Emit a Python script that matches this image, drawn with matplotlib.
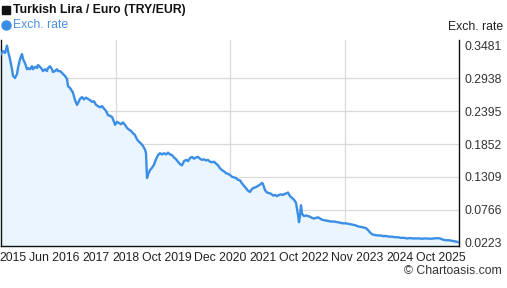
import matplotlib
matplotlib.use("Agg")
import matplotlib.pyplot as plt
from matplotlib.lines import Line2D

# ---- data ----
years = [2015.400, 2015.444, 2015.488, 2015.532, 2015.554, 2015.597, 2015.641, 2015.663, 2015.707, 2015.751,
         2015.773, 2015.817, 2015.861, 2015.883, 2015.927, 2015.971, 2015.993, 2016.036, 2016.080, 2016.102,
         2016.146, 2016.190, 2016.212, 2016.256, 2016.300, 2016.322, 2016.366, 2016.409, 2016.431, 2016.475,
         2016.519, 2016.541, 2016.585, 2016.629, 2016.651, 2016.695, 2016.739, 2016.761, 2016.804, 2016.848,
         2016.870, 2016.914, 2016.958, 2016.980, 2017.024, 2017.068, 2017.090, 2017.134, 2017.177, 2017.221,
         2017.265, 2017.309, 2017.353, 2017.397, 2017.441, 2017.485, 2017.529, 2017.572, 2017.616, 2017.660,
         2017.704, 2017.748, 2017.792, 2017.836, 2017.880, 2017.902, 2017.946, 2017.989, 2018.033, 2018.077,
         2018.121, 2018.165, 2018.209, 2018.253, 2018.297, 2018.341, 2018.384, 2018.428, 2018.472, 2018.516,
         2018.560, 2018.582, 2018.604, 2018.626, 2018.670, 2018.714, 2018.757, 2018.801, 2018.845, 2018.889,
         2018.933, 2018.977, 2019.021, 2019.065, 2019.109, 2019.152, 2019.196, 2019.240, 2019.284, 2019.328,
         2019.372, 2019.416, 2019.460, 2019.504, 2019.547, 2019.591, 2019.635, 2019.679, 2019.723, 2019.767,
         2019.811, 2019.855, 2019.899, 2019.942, 2019.986, 2020.030, 2020.074, 2020.118, 2020.162, 2020.206,
         2020.250, 2020.294, 2020.337, 2020.381, 2020.425, 2020.469, 2020.513, 2020.557, 2020.601, 2020.645,
         2020.689, 2020.732, 2020.776, 2020.820, 2020.864, 2020.908, 2020.952, 2020.996, 2021.040, 2021.084,
         2021.127, 2021.149, 2021.193, 2021.237, 2021.281, 2021.325, 2021.369, 2021.413, 2021.457, 2021.501,
         2021.544, 2021.588, 2021.632, 2021.676, 2021.698, 2021.742, 2021.786, 2021.830, 2021.874, 2021.896,
         2021.917, 2021.939, 2021.961, 2021.983, 2022.005, 2022.049, 2022.093, 2022.137, 2022.181, 2022.225,
         2022.268, 2022.312, 2022.356, 2022.400, 2022.444, 2022.510, 2022.576, 2022.642, 2022.707, 2022.773,
         2022.839, 2022.905, 2022.971, 2023.037, 2023.102, 2023.168, 2023.234, 2023.300, 2023.366, 2023.410,
         2023.453, 2023.497, 2023.541, 2023.585, 2023.651, 2023.717, 2023.783, 2023.848, 2023.914, 2023.980,
         2024.046, 2024.112, 2024.178, 2024.243, 2024.309, 2024.375, 2024.441, 2024.507, 2024.573, 2024.638,
         2024.704, 2024.770, 2024.836, 2024.902, 2024.968, 2025.034, 2025.099, 2025.165, 2025.231, 2025.297,
         2025.363, 2025.407, 2025.450]

rates = [0.334, 0.339, 0.336, 0.3481, 0.339, 0.326, 0.309, 0.298, 0.2945, 0.301,
         0.311, 0.326, 0.334, 0.326, 0.319, 0.309, 0.311, 0.309, 0.314, 0.309,
         0.313, 0.311, 0.316, 0.313, 0.309, 0.306, 0.309, 0.306, 0.311, 0.314,
         0.309, 0.3045, 0.306, 0.309, 0.306, 0.306, 0.303, 0.301, 0.298, 0.293,
         0.281, 0.278, 0.273, 0.270, 0.258, 0.250, 0.253, 0.260, 0.263, 0.259,
         0.262, 0.260, 0.258, 0.255, 0.256, 0.250, 0.248, 0.246, 0.248, 0.244,
         0.240, 0.233, 0.232, 0.230, 0.222, 0.217, 0.222, 0.220, 0.218, 0.221,
         0.217, 0.212, 0.209, 0.207, 0.203, 0.200, 0.193, 0.189, 0.186, 0.182,
         0.176, 0.170, 0.129, 0.135, 0.142, 0.146, 0.151, 0.160, 0.167, 0.170,
         0.168, 0.170, 0.168, 0.171, 0.168, 0.167, 0.163, 0.160, 0.156, 0.152,
         0.150, 0.157, 0.159, 0.157, 0.162, 0.164, 0.161, 0.163, 0.164, 0.161,
         0.159, 0.160, 0.158, 0.159, 0.156, 0.155, 0.156, 0.153, 0.150, 0.145,
         0.142, 0.140, 0.137, 0.136, 0.134, 0.131, 0.130, 0.129, 0.126, 0.125,
         0.120, 0.116, 0.112, 0.108, 0.106, 0.111, 0.113, 0.114, 0.116, 0.118,
         0.121, 0.119, 0.109, 0.105, 0.104, 0.103, 0.100, 0.101, 0.099, 0.101,
         0.102, 0.101, 0.103, 0.104, 0.105, 0.099, 0.096, 0.093, 0.088, 0.078,
         0.068, 0.056, 0.066, 0.084, 0.070, 0.066, 0.067, 0.066, 0.065, 0.063,
         0.062, 0.063, 0.064, 0.062, 0.060, 0.059, 0.058, 0.057, 0.057, 0.056,
         0.055, 0.054, 0.054, 0.053, 0.052, 0.051, 0.049, 0.048, 0.047, 0.046,
         0.043, 0.039, 0.036, 0.035, 0.034, 0.034, 0.033, 0.033, 0.032, 0.032,
         0.031, 0.031, 0.030, 0.030, 0.029, 0.0295, 0.029, 0.029, 0.029, 0.0285,
         0.029, 0.0288, 0.0285, 0.029, 0.0295, 0.029, 0.027, 0.026, 0.026, 0.025,
         0.024, 0.0235, 0.0223]

y_ticks = [0.0223, 0.0766, 0.1309, 0.1852, 0.2395, 0.2938, 0.3481]
x_tick_pos = [2015.670, 2016.578, 2017.489, 2018.147, 2019.049, 2020.219,
              2021.149, 2022.049, 2023.221, 2024.151, 2025.053]
x_tick_labels = ["2015", "Jun 2016", "2017", "2018", "Oct 2019", "Dec 2020",
                 "2021", "Oct 2022", "Nov 2023", "2024", "Oct 2025"]
x_range = (2015.40, 2025.45)
y_range = (0.0165, 0.3574)

title = "Turkish Lira / Euro (TRY/EUR)"
series_name = "Exch. rate"
axis_title = "Exch. rate"
credit = "\u00a9 Chartoasis.com"

# ---- style ----
plt.rcParams['font.family'] = ['Liberation Sans', 'DejaVu Sans']
LINE = "#3a8ee6"
FILL = "#eaf5ff"
GRID = "#d9d9d9"
FS = 8.8

fig = plt.figure(figsize=(5.07, 2.88), dpi=100)
ax = fig.add_axes([1 / 507, 42 / 288, 458 / 507, 206 / 288])

ax.set_xlim(*x_range)
ax.set_ylim(*y_range)

ax.fill_between(years, rates, y_range[0], color=FILL, lw=0, zorder=1)
ax.plot(years, rates, color=LINE, lw=1.7, zorder=3, solid_joinstyle="round")

for yt in y_ticks[1:-1]:
    ax.axhline(yt, color=GRID, lw=0.9, zorder=0)
for k in (1, 2, 3):
    ax.axvline(x_range[0] + (x_range[1] - x_range[0]) * k / 4, color=GRID, lw=0.9, zorder=0)

ax.yaxis.tick_right()
ax.set_yticks(y_ticks)
ax.set_yticklabels([f"{v:.4f}" for v in y_ticks])
ax.set_xticks(x_tick_pos)
ax.set_xticklabels(x_tick_labels)
ax.tick_params(axis="y", length=0, pad=4, labelsize=FS, labelcolor="#333333")
ax.tick_params(axis="x", length=0, pad=4, labelsize=FS, labelcolor="#222222")

for side in ("left", "right", "bottom"):
    ax.spines[side].set_color("#111111")
    ax.spines[side].set_linewidth(1.0)
ax.spines["top"].set_visible(False)

# title and legend
fig.add_artist(Line2D([6 / 507], [1 - 10 / 288], marker="s", markersize=6.2, color="#111111",
                      lw=0, transform=fig.transFigure))
fig.text(13 / 507, 1 - 10 / 288, title, fontsize=FS, fontweight="bold", color="#111111",
         va="center", ha="left")
fig.add_artist(Line2D([6 / 507], [1 - 25 / 288], marker="o", markersize=6.5, color=LINE,
                      lw=0, transform=fig.transFigure))
fig.text(13 / 507, 1 - 25 / 288, series_name, fontsize=FS, color="#4a90e2", va="center", ha="left")
fig.text(503 / 507, 1 - 27 / 288, axis_title, fontsize=FS, color="#222222", va="center", ha="right")
fig.text(502 / 507, 1 - 271 / 288, credit, fontsize=FS, color="#333333", va="center", ha="right")

fig.savefig("out.png", dpi=100)
